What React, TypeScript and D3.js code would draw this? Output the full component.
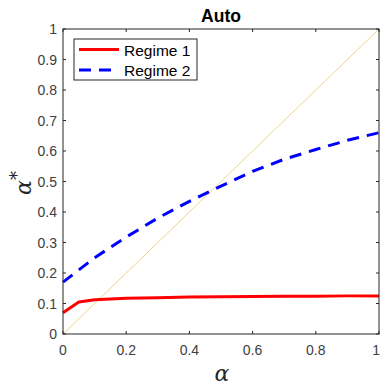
import React from "react";
import * as d3 from "d3";

const xTicks = [0, 0.2, 0.4, 0.6, 0.8, 1];
const yTicks = [0, 0.1, 0.2, 0.3, 0.4, 0.5, 0.6, 0.7, 0.8, 0.9, 1];
const regime1Alpha = [0, 0.05, 0.1, 0.15, 0.2, 0.3, 0.4, 0.5, 0.6, 0.7, 0.8, 0.9, 1];
const regime1Values = [0.07, 0.105, 0.112, 0.115, 0.117, 0.119, 0.121, 0.122, 0.123, 0.124, 0.124, 0.125, 0.125];
const regime2Alpha = [0, 0.1, 0.2, 0.3, 0.4, 0.5, 0.6, 0.7, 0.8, 0.9, 1];
const regime2Values = [0.17, 0.25, 0.318, 0.38, 0.435, 0.485, 0.533, 0.573, 0.605, 0.635, 0.66];
const diagonal = [0, 1];

export default function App() {
  const W = 381, H = 385;
  const L = 63, R = 379, T = 29, B = 334;
  const x = d3.scaleLinear().domain([0, 1]).range([L, R]);
  const y = d3.scaleLinear().domain([0, 1]).range([B, T]);
  const line = d3.line<[number, number]>().x(d => x(d[0])).y(d => y(d[1]));
  const r1 = regime1Alpha.map((a, i) => [a, regime1Values[i]] as [number, number]);
  const r2 = regime2Alpha.map((a, i) => [a, regime2Values[i]] as [number, number]);
  const diag = diagonal.map(a => [a, a] as [number, number]);
  const axisColor = "#262626";
  const font = "'Liberation Sans', Arial, sans-serif";
  const tl = 3;
  return (
    <svg width={W} height={H} style={{ position: "absolute", left: 0, top: 0 }}>
      <rect x={0} y={0} width={W} height={H} fill="#fff" />
      <path d={line(diag)!} stroke="#ecd58a" strokeWidth={1} fill="none" />
      <path d={line(r1)!} stroke="#ff0000" strokeWidth={3} fill="none" strokeLinejoin="round" />
      <path d={line(r2)!} stroke="#0000ff" strokeWidth={3} fill="none" strokeDasharray="12,8" />
      <rect x={L} y={T} width={R - L} height={B - T} fill="none" stroke={axisColor} strokeWidth={1} />
      {xTicks.map((t, i) => {
        const last = i === xTicks.length - 1;
        return (
          <g key={"x" + t}>
            <line x1={x(t)} x2={x(t)} y1={B} y2={B - tl} stroke={axisColor} />
            <line x1={x(t)} x2={x(t)} y1={T} y2={T + tl} stroke={axisColor} />
            <text x={last ? W - 1 : x(t)} y={355} textAnchor={last ? "end" : "middle"} fontFamily={font} fontSize={14} fill="#404040">{String(t)}</text>
          </g>
        );
      })}
      {yTicks.map(t => (
        <g key={"y" + t}>
          <line x1={L} x2={L + tl} y1={y(t)} y2={y(t)} stroke={axisColor} />
          <line x1={R} x2={R - tl} y1={y(t)} y2={y(t)} stroke={axisColor} />
          <text x={57} y={y(t) + 5} textAnchor="end" fontFamily={font} fontSize={14} fill="#404040">{String(t)}</text>
        </g>
      ))}
      <text x={(L + R) / 2} y={22} textAnchor="middle" fontFamily={font} fontWeight="bold" fontSize={17.5} fill="#000">Auto</text>
      <text x={222} y={381} textAnchor="middle" fontFamily="'DejaVu Serif', serif" fontStyle="italic" fontSize={22} fill="#262626">α</text>
      <text transform="translate(31,183) rotate(-90)" textAnchor="middle" fontFamily="'DejaVu Serif', serif" fontSize={22} fill="#262626">
        <tspan fontStyle="italic">α</tspan>
        <tspan fontSize={18} dy={-8}>*</tspan>
      </text>
      <rect x={74} y={39} width={123} height={41} fill="#fff" stroke={axisColor} strokeWidth={1} />
      <line x1={79} x2={119} y1={49.5} y2={49.5} stroke="#ff0000" strokeWidth={3} />
      <line x1={79} x2={119} y1={70} y2={70} stroke="#0000ff" strokeWidth={3} strokeDasharray="12,8" />
      <text x={124} y={55.5} fontFamily={font} fontSize={15.5} fill="#000">Regime 1</text>
      <text x={124} y={76} fontFamily={font} fontSize={15.5} fill="#000">Regime 2</text>
    </svg>
  );
}
